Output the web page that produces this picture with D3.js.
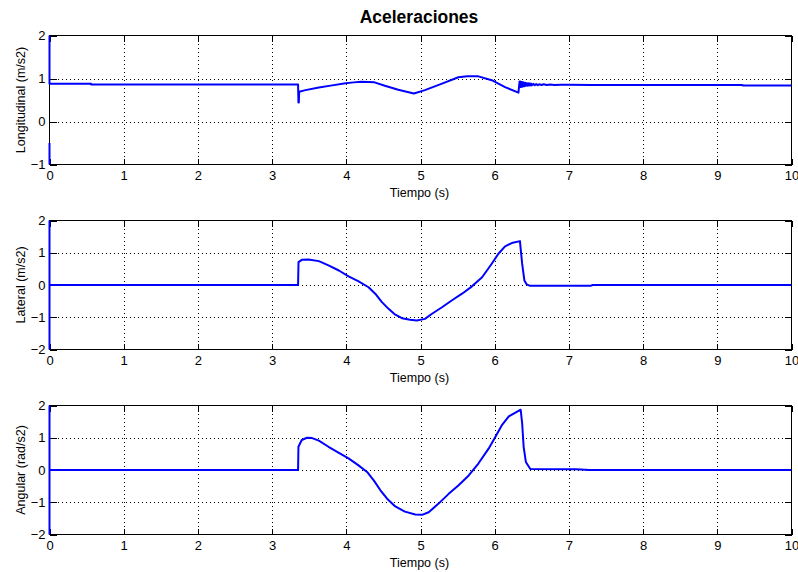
<!DOCTYPE html>
<html>
<head>
<meta charset="utf-8">
<script src="https://cdn.jsdelivr.net/npm/d3@7"></script>
<style>
  html, body { margin: 0; padding: 0; background: #fff; }
  svg { display: block; }
  text { font-family: "Liberation Sans", Arial, sans-serif; fill: #000; }
</style>
</head>
<body>
<svg id="chart" width="798" height="572"></svg>
<script>
// ---------------- DATA ----------------
const xTicks = [0, 1, 2, 3, 4, 5, 6, 7, 8, 9, 10];
const yTicksLong = [-1, 0, 1, 2];
const yTicksLat = [-2, -1, 0, 1, 2];
const yTicksAng = [-2, -1, 0, 1, 2];

const titleText = "Aceleraciones";
const xLabelText = "Tiempo (s)";
const yLabels = ["Longitudinal (m/s2)", "Lateral (m/s2)", "Angular (rad/s2)"];

// Longitudinal acceleration (null = break in line)
const longT = [0, 0, null, 0, 0, 0.56, 0.56, 3.35, 3.355, 3.36, 3.365, 3.45, 3.63, 3.81, 3.99, 4.10, 4.2, 4.3, 4.38, 4.52, 4.70, 4.91, 5.06, 5.29, 5.51, 5.63, 5.78, 5.96, 6.14, 6.32,
  6.335, 6.34, 6.345, 6.35, 6.355, 6.36, 6.365, 6.37, 6.375, 6.38, 6.385, 6.39, 6.395, 6.40, 6.41, 6.42, 6.43, 6.44, 6.45, 6.46, 6.47, 6.48, 6.49, 6.50, 6.52, 6.54, 6.56, 6.58, 6.60, 6.63, 6.66, 6.70, 6.75, 6.80, 6.90, 7.0, 7.3, 9.33, 9.35, 10];
const longV = [-0.5, -1.5, null, 2.5, 0.88, 0.88, 0.86, 0.86, 0.44, 0.44, 0.69, 0.73, 0.79, 0.84, 0.89, 0.91, 0.925, 0.92, 0.91, 0.83, 0.74, 0.65, 0.73, 0.88, 1.03, 1.05, 1.05, 0.96, 0.80, 0.67,
  0.93, 0.80, 0.93, 0.80, 0.92, 0.81, 0.92, 0.81, 0.91, 0.82, 0.91, 0.82, 0.90, 0.82, 0.90, 0.83, 0.89, 0.83, 0.89, 0.835, 0.885, 0.84, 0.88, 0.84, 0.875, 0.845, 0.87, 0.845, 0.865, 0.85, 0.865, 0.85, 0.86, 0.85, 0.855, 0.852, 0.85, 0.85, 0.838, 0.838];

// Lateral acceleration
const latT = [0, 0, 0, 3.35, 3.356, 3.40, 3.49, 3.63, 3.76, 3.90, 4.03, 4.16, 4.30, 4.39, 4.48, 4.57, 4.66, 4.75, 4.86, 4.95, 5.06, 5.15, 5.29, 5.42, 5.56, 5.69, 5.83, 5.96, 6.05, 6.14, 6.23, 6.34, 6.37, 6.40, 6.43, 6.47, 7.3, 7.32, 10];
const latV = [2.5, -2.5, 0, 0, 0.71, 0.78, 0.79, 0.74, 0.61, 0.45, 0.27, 0.12, -0.07, -0.27, -0.53, -0.74, -0.92, -1.03, -1.08, -1.10, -1.05, -0.90, -0.69, -0.48, -0.27, -0.05, 0.24, 0.66, 0.97, 1.20, 1.30, 1.36, 0.66, 0.14, 0.02, -0.02, -0.02, 0, 0];

// Angular acceleration
const angT = [0, 0, 0, 3.35, 3.355, 3.40, 3.47, 3.54, 3.63, 3.76, 3.90, 4.03, 4.16, 4.28, 4.37, 4.46, 4.55, 4.66, 4.79, 4.93, 5.02, 5.11, 5.24, 5.38, 5.51, 5.65, 5.78, 5.92, 6.01, 6.10, 6.19, 6.28, 6.35, 6.37, 6.39, 6.42, 6.48, 7.1, 7.28, 10];
const angV = [2.5, -2.5, 0, 0, 0.72, 0.93, 1.00, 0.99, 0.91, 0.72, 0.53, 0.36, 0.15, -0.06, -0.32, -0.63, -0.89, -1.13, -1.29, -1.38, -1.39, -1.31, -1.05, -0.74, -0.48, -0.17, 0.20, 0.67, 1.03, 1.40, 1.66, 1.78, 1.87, 1.45, 0.72, 0.25, 0.03, 0.02, 0.0, 0.0];

// ---------------- LAYOUT ----------------
const svg = d3.select("#chart");
const xLeft = 49.5, xRight = 791.5;
const panels = [
  { t: longT, v: longV, domain: [-1, 2], ticks: yTicksLong, top: 35.5, bottom: 164.5, label: yLabels[0] },
  { t: latT, v: latV, domain: [-2, 2], ticks: yTicksLat, top: 220.5, bottom: 349.5, label: yLabels[1] },
  { t: angT, v: angV, domain: [-2, 2], ticks: yTicksAng, top: 405.5, bottom: 534.5, label: yLabels[2] }
];

const x = d3.scaleLinear().domain([0, 10]).range([xLeft, xRight]);

svg.append("text")
  .attr("x", 419).attr("y", 23)
  .attr("text-anchor", "middle")
  .style("font-size", "17.5px").style("font-weight", "bold")
  .text(titleText);

panels.forEach((p, i) => {
  const y = d3.scaleLinear().domain(p.domain).range([p.bottom, p.top]);
  const g = svg.append("g");

  // grid
  const grid = g.append("g").attr("stroke", "#000").attr("stroke-width", 1)
    .attr("stroke-dasharray", "1,3").attr("shape-rendering", "crispEdges");
  xTicks.slice(1, -1).forEach(tv => {
    grid.append("line").attr("x1", Math.round(x(tv)) + 0.5).attr("x2", Math.round(x(tv)) + 0.5)
      .attr("y1", p.top).attr("y2", p.bottom);
  });
  p.ticks.slice(1, -1).forEach(tv => {
    grid.append("line").attr("y1", Math.round(y(tv)) + 0.5).attr("y2", Math.round(y(tv)) + 0.5)
      .attr("x1", xLeft).attr("x2", xRight);
  });

  // axes with inward ticks (bottom/top/left/right)
  const ax = g.append("g");
  ax.append("g").attr("transform", `translate(0,${p.bottom})`)
    .call(d3.axisBottom(x).tickValues(xTicks).tickSize(-6).tickPadding(6).tickFormat(d3.format("d")))
    .call(s => s.select(".domain").remove());
  ax.append("g").attr("transform", `translate(0,${p.top})`)
    .call(d3.axisTop(x).tickValues(xTicks).tickSize(-6).tickFormat(""))
    .call(s => s.select(".domain").remove());
  ax.append("g").attr("transform", `translate(${xLeft},0)`)
    .call(d3.axisLeft(y).tickValues(p.ticks).tickSize(-7).tickPadding(4).tickFormat(d3.format("d")))
    .call(s => s.select(".domain").remove());
  ax.append("g").attr("transform", `translate(${xRight},0)`)
    .call(d3.axisRight(y).tickValues(p.ticks).tickSize(-7).tickFormat(""))
    .call(s => s.select(".domain").remove());
  ax.selectAll("line").attr("stroke", "#000").attr("shape-rendering", "crispEdges");
  ax.selectAll("text").style("font-size", "13px").style("font-family", '"Liberation Sans", Arial, sans-serif').attr("fill", "#000");

  // box
  g.append("rect").attr("x", xLeft).attr("y", p.top)
    .attr("width", xRight - xLeft).attr("height", p.bottom - p.top)
    .attr("fill", "none").attr("stroke", "#000").attr("stroke-width", 1)
    .attr("shape-rendering", "crispEdges");

  // data line (drawn over the box, like the reference)
  const clipId = "clip" + i;
  svg.append("clipPath").attr("id", clipId).append("rect")
    .attr("x", xLeft - 1.5).attr("y", p.top).attr("width", xRight - xLeft + 1.5).attr("height", p.bottom - p.top);
  const pts = p.t.map((tv, k) => [tv, p.v[k]]);
  const line = d3.line()
    .defined(d => d[0] !== null && d[1] !== null)
    .x(d => x(d[0])).y(d => y(d[1]));
  g.append("path").datum(pts)
    .attr("clip-path", "url(#" + clipId + ")")
    .attr("fill", "none").attr("stroke", "#0000ff").attr("stroke-width", 2)
    .attr("stroke-linejoin", "round")
    .attr("d", line);

  // labels
  g.append("text")
    .attr("x", (xLeft + xRight) / 2 - 1).attr("y", p.bottom + 32.5)
    .attr("text-anchor", "middle").style("font-size", "12.5px")
    .text(xLabelText);
  g.append("text")
    .attr("transform", `translate(25,${(p.top + p.bottom) / 2}) rotate(-90)`)
    .attr("text-anchor", "middle").style("font-size", "12.5px")
    .text(p.label);
});
</script>
</body>
</html>
